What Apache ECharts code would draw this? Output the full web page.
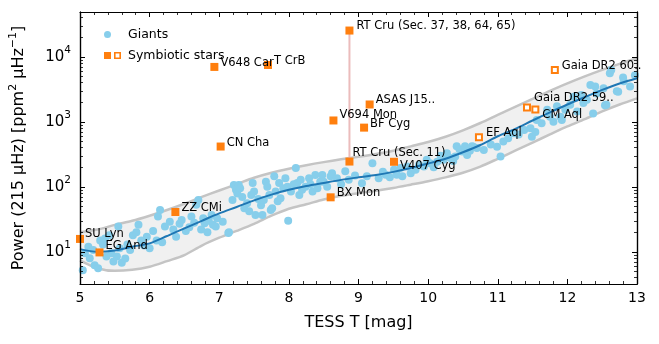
<!DOCTYPE html>
<html>
<head>
<meta charset="utf-8">
<script src="https://cdn.jsdelivr.net/npm/echarts@6/dist/echarts.min.js"></script>
<style>
  html, body { margin: 0; padding: 0; background: #fff; }
  #main { width: 659px; height: 344px; }
</style>
</head>
<body>
<div id="main"></div>
<script>
// giants: TESS magnitude / power at 215 muHz
var giantsT = [
  5.04, 5.07, 5.12, 5.14, 5.19, 5.21, 5.26, 5.29, 5.33, 5.36, 5.38, 5.42, 5.45, 5.48, 5.53, 5.55, 5.57, 5.6, 5.65, 5.68,
  5.72, 5.76, 5.81, 5.84, 5.88, 5.92, 5.96, 6.0, 6.05, 6.1, 6.12, 6.15, 6.18, 6.22, 6.29, 6.34, 6.38, 6.43, 6.46, 6.52,
  6.57, 6.6, 6.64, 6.67, 6.7, 6.74, 6.77, 6.79, 6.85, 6.89, 6.91, 6.83, 6.95, 6.97, 7.05, 7.13, 7.14, 7.19, 7.21, 7.24,
  7.26, 7.28, 7.3, 7.33, 7.36, 7.4, 7.43, 7.46, 7.48, 7.5, 7.52, 7.56, 7.6, 7.62, 7.64, 7.67, 7.69, 7.72, 7.74, 7.76,
  7.79, 7.81, 7.84, 7.86, 7.88, 7.92, 7.95, 7.98, 7.99, 8.03, 8.07, 8.1, 8.12, 8.15, 8.17, 8.19, 8.24, 8.29, 8.31, 8.34,
  8.38, 8.41, 8.45, 8.48, 8.5, 8.55, 8.6, 8.62, 8.69, 8.75, 8.81, 8.86, 8.95, 9.05, 9.12, 9.2, 9.29, 9.35, 9.39, 9.45,
  9.51, 9.55, 9.6, 9.63, 9.7, 9.75, 9.82, 9.87, 9.94, 9.98, 10.03, 10.08, 10.13, 10.18, 10.22, 10.27, 10.32, 10.36, 10.39, 10.41,
  10.45, 10.49, 10.53, 10.56, 10.6, 10.63, 10.7, 10.65, 10.8, 10.9, 10.99, 11.04, 11.08, 11.15, 11.23, 11.3, 11.38, 11.47, 11.49, 11.54,
  11.56, 11.63, 11.71, 11.75, 11.8, 11.85, 11.9, 11.92, 11.97, 12.04, 12.09, 12.14, 12.2, 12.23, 12.28, 12.33, 12.37, 12.4, 12.42, 12.52,
  12.54, 12.56, 12.61, 12.63, 12.71, 12.73, 12.8, 12.81, 12.9, 12.97
];
var giantsP = [
  5.2, 9.5, 12, 8.0, 10.7, 6.2, 5.6, 15, 13, 16, 8.5, 18, 9.5, 7.1, 8.5, 24.5, 11.4, 6.8, 7.9, 13,
  10.7, 18, 20, 26, 15, 12.5, 17, 11.4, 21, 15, 35, 44, 14, 24.5, 29, 22, 17, 27, 31, 21,
  24, 35, 28, 53, 63, 22, 33, 27.5, 30, 37, 26, 20, 24.6, 33, 29, 19.5, 20, 63, 107, 90,
  79, 107, 95, 70, 47, 56, 42, 75, 115, 85, 37, 65, 52, 37, 63, 120, 100, 75, 44, 47,
  145, 85, 60, 115, 67, 95, 136, 100, 30, 85, 110, 195, 115, 75, 129, 90, 100, 136, 110, 85,
  152, 95, 120, 152, 120, 100, 145, 162, 135, 110, 173, 129, 150, 114, 145, 230, 136, 170, 154, 140,
  183, 154, 195, 145, 205, 162, 183, 218, 205, 260, 230, 200, 244, 300, 262, 330, 278, 250, 294, 420,
  380, 350, 420, 310, 360, 420, 395, 415, 370, 450, 415, 293, 500, 560, 670, 640, 750, 800, 590, 700,
  1070, 950, 1540, 1200, 1000, 1740, 1200, 1070, 1540, 1830, 2440, 1440, 2600, 1950, 2180, 3700, 1350, 3500, 2740, 3290,
  1800, 1830, 5600, 6300, 2960, 2900, 4800, 4200, 3500, 5200
];

// fitted relation and its band
var fitT = [5.0, 5.25, 5.5, 5.75, 6.0, 6.25, 6.5, 6.75, 7.0, 7.25, 7.5, 7.75, 8.0, 8.25, 8.5, 8.75, 9.0,
            9.25, 9.5, 9.75, 10.0, 10.25, 10.5, 10.75, 11.0, 11.25, 11.5, 11.75, 12.0, 12.25, 12.5, 12.75, 13.0];
var fitP = [11, 10, 10.5, 12, 13.5, 17.5, 23, 30, 39, 49, 62, 76, 90, 103, 115, 128, 140,
            152, 170, 195, 228, 270, 340, 440, 600, 780, 1050, 1400, 1850, 2400, 3100, 3900, 4700];
var bandHigh = [20, 22, 26, 30, 36, 44, 55, 70, 88, 110, 138, 165, 190, 215, 240, 265, 290,
                320, 360, 420, 490, 590, 740, 960, 1280, 1700, 2250, 3000, 3900, 5000, 6300, 7800, 9500];
var bandLow = [7.4, 5.6, 5.1, 5.3, 5.9, 7.2, 8.9, 12.5, 16.5, 21, 27, 36, 46, 54, 64, 73, 80,
               87, 96, 108, 122, 140, 165, 205, 270, 360, 480, 640, 850, 1100, 1450, 1850, 2300];

// symbiotic stars, filled markers
var symbNames = ['V648 Car', 'T CrB', 'CN Cha', 'RT Cru (Sec. 37, 38, 64, 65)', 'ASAS J15..', 'V694 Mon',
                 'BF Cyg', 'RT Cru (Sec. 11)', 'V407 Cyg', 'BX Mon', 'ZZ CMi', 'SU Lyn', 'EG And'];
var symbT = [6.93, 7.7, 7.02, 8.87, 9.16, 8.64, 9.08, 8.87, 9.51, 8.6, 6.37, 5.0, 5.28];
var symbP = [7000, 7500, 417, 25400, 1850, 1050, 815, 245, 243, 69, 41, 15.8, 9.8];

// symbiotic stars, open markers
var openNames = ['Gaia DR2 60..', 'Gaia DR2 59..', 'CM Aql', 'EF Aql'];
var openT = [11.82, 11.42, 11.54, 10.73];
var openP = [6300, 1660, 1545, 580];

// RT Cru variation between sectors
var rtCruT = [8.87, 8.87];
var rtCruP = [245, 25400];

var xTicks = [5, 6, 7, 8, 9, 10, 11, 12, 13];
var yMajor = [10, 100, 1000, 10000];
var yMinor = [4, 5, 6, 7, 8, 9, 20, 30, 40, 50, 60, 70, 80, 90, 200, 300, 400, 500, 600, 700, 800, 900,
              2000, 3000, 4000, 5000, 6000, 7000, 8000, 9000, 20000, 30000, 40000];

// label nudges
var labelOffset = {
  'RT Cru (Sec. 11)': [-3, -9],
  'V407 Cyg': [0, 4],
  'Gaia DR2 59..': [0, -10],
  'CM Aql': [0, 5],
  'EG And': [0, -6],
  'SU Lyn': [-1, -5],
  'RT Cru (Sec. 37, 38, 64, 65)': [1, -5],
  'V694 Mon': [0, -5]
};

var FONT = 'DejaVu Sans';
var ORANGE = '#ff7f0e';

function labelled(names, ts, ps) {
  return names.map(function (n, i) {
    return {
      name: n,
      value: [ts[i], ps[i]],
      label: { offset: labelOffset[n] || [0, -4] }
    };
  });
}

var chart = echarts.init(document.getElementById('main'), null, { renderer: 'canvas' });

function tickAxis(extra) {
  var base = {
    axisLine: { show: true, lineStyle: { color: '#000', width: 1.2 } },
    axisTick: { show: true, inside: true, length: 5, lineStyle: { color: '#000', width: 1 } },
    axisLabel: { show: false },
    splitLine: { show: false }
  };
  return Object.assign(base, extra);
}

var logFmt = function (v) {
  return '{b|10}{s|' + Math.round(Math.log10(v)) + '}';
};

var option = {
  animation: false,
  backgroundColor: '#fff',
  textStyle: { fontFamily: FONT },
  grid: { left: 79, right: 22, top: 12, bottom: 60 },
  legend: {
    orient: 'vertical',
    left: 99,
    top: 23,
    itemWidth: 19,
    itemHeight: 7,
    itemGap: 8,
    textStyle: { fontFamily: FONT, fontSize: 12.5, color: '#000', padding: [0, 0, 0, 0] },
    data: [
      { name: 'Giants', icon: 'path://M0,3.5a3.5,3.5 0 1,0 7,0a3.5,3.5 0 1,0 -7,0z M18.95,3.5h0.05v0.05h-0.05z' },
      { name: 'Symbiotic stars', icon: 'path://M0,0h7v7h-7z M10,0h7v7h-7z M11.6,1.6v3.8h3.8v-3.8z M18.95,3.5h0.05v0.05h-0.05z' }
    ]
  },
  xAxis: [
    tickAxis({
      type: 'value', min: 5, max: 13, interval: 1, position: 'bottom', z: 10,
      name: 'TESS T [mag]', nameLocation: 'middle', nameGap: 31,
      nameTextStyle: { fontFamily: FONT, fontSize: 16, color: '#000' },
      axisLabel: { show: true, color: '#000', fontSize: 14, fontFamily: FONT, margin: 7,
                   customValues: xTicks },
      minorTick: { show: true, splitNumber: 5, length: 3, lineStyle: { color: '#000', width: 0.8 } }
    }),
    tickAxis({
      type: 'value', min: 5, max: 13, interval: 1, position: 'top', z: 10,
      minorTick: { show: true, splitNumber: 5, length: 3, lineStyle: { color: '#000', width: 0.8 } }
    })
  ],
  yAxis: [
    tickAxis({
      type: 'log', min: 3.2, max: 49000, position: 'left', z: 10,
      name: 'Power (215 μHz) [ppm{s|2} μHz{s|−1}]', nameLocation: 'middle', nameGap: 50,
      nameTextStyle: { fontFamily: FONT, fontSize: 16, color: '#000',
                       rich: { s: { fontFamily: FONT, fontSize: 11, color: '#000', verticalAlign: 'top', lineHeight: 22 } } },
      axisTick: { show: true, inside: true, length: 5, customValues: yMajor, lineStyle: { color: '#000', width: 1 } },
      axisLabel: { show: true, customValues: yMajor, formatter: logFmt, margin: 9,
                   rich: { b: { fontFamily: FONT, fontSize: 15, color: '#000' },
                           s: { fontFamily: FONT, fontSize: 10.5, color: '#000', verticalAlign: 'top', lineHeight: 24 } } }
    }),
    tickAxis({
      type: 'log', min: 3.2, max: 49000, position: 'right', z: 10,
      axisTick: { show: true, inside: true, length: 5, customValues: yMajor, lineStyle: { color: '#000', width: 1 } }
    }),
    tickAxis({
      type: 'log', min: 3.2, max: 49000, position: 'left', z: 10,
      axisTick: { show: true, inside: true, length: 3, customValues: yMinor, lineStyle: { color: '#000', width: 0.8 } }
    }),
    tickAxis({
      type: 'log', min: 3.2, max: 49000, position: 'right', z: 10,
      axisTick: { show: true, inside: true, length: 3, customValues: yMinor, lineStyle: { color: '#000', width: 0.8 } }
    })
  ],
  series: [
    {
      type: 'custom',
      name: 'band',
      silent: true,
      z: 1,
      data: [[fitT[0], fitP[0]]],
      renderItem: function (params, api) {
        var pts = [];
        for (var i = 0; i < fitT.length; i++) pts.push(api.coord([fitT[i], bandHigh[i]]));
        for (var j = fitT.length - 1; j >= 0; j--) pts.push(api.coord([fitT[j], bandLow[j]]));
        return { type: 'polygon', shape: { points: pts, smooth: 0 }, style: { fill: '#f0f0f0' } };
      }
    },
    {
      type: 'line', name: 'upper', z: 2, silent: true, symbol: 'none', smooth: 0.3,
      lineStyle: { color: '#c4c4c4', width: 2.5 },
      data: fitT.map(function (t, i) { return [t, bandHigh[i]]; })
    },
    {
      type: 'line', name: 'lower', z: 2, silent: true, symbol: 'none', smooth: 0.3,
      lineStyle: { color: '#c4c4c4', width: 2.5 },
      data: fitT.map(function (t, i) { return [t, bandLow[i]]; })
    },
    {
      type: 'scatter', name: 'Giants', z: 3, symbol: 'circle', symbolSize: 8,
      itemStyle: { color: '#87ceeb', opacity: 1 },
      data: giantsT.map(function (t, i) { return [t, giantsP[i]]; })
    },
    {
      type: 'line', name: 'fit', z: 4, silent: true, symbol: 'none', smooth: 0.3,
      lineStyle: { color: '#1f77b4', width: 2 },
      data: fitT.map(function (t, i) { return [t, fitP[i]]; })
    },
    {
      type: 'line', name: 'RT Cru', z: 5, silent: true, symbol: 'none',
      lineStyle: { color: '#ebbcbc', width: 2 },
      data: rtCruT.map(function (t, i) { return [t, rtCruP[i]]; })
    },
    {
      type: 'scatter', name: 'Symbiotic stars', z: 6, symbol: 'rect', symbolSize: 8,
      itemStyle: { color: ORANGE, opacity: 1 },
      label: { show: true, position: 'right', distance: 2, formatter: '{b}',
               fontFamily: FONT, fontSize: 11.5, color: '#000' },
      data: labelled(symbNames, symbT, symbP)
    },
    {
      type: 'scatter', name: 'Symbiotic (open)', z: 6, symbol: 'rect', symbolSize: 6,
      itemStyle: { color: '#fff', borderColor: ORANGE, borderWidth: 2, opacity: 1 },
      label: { show: true, position: 'right', distance: 3, formatter: '{b}',
               fontFamily: FONT, fontSize: 11.5, color: '#000' },
      data: labelled(openNames, openT, openP)
    }
  ]
};

chart.setOption(option);
</script>
</body>
</html>
